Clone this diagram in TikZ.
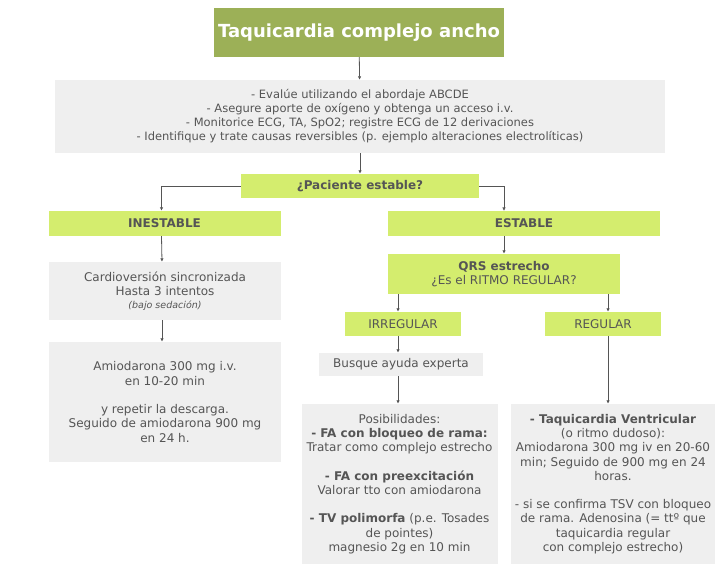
\documentclass[tikz,border=0pt]{standalone}
\usepackage{fontspec}
\setmainfont{DejaVu Sans}
\usetikzlibrary{arrows.meta}

\definecolor{titlegreen}{HTML}{9CB057}
\definecolor{boxlime}{HTML}{D4ED6E}
\definecolor{boxgray}{HTML}{EFEFEF}
\definecolor{inkgray}{HTML}{555555}

\begin{document}
\begin{tikzpicture}[x=1pt,y=-1pt,
    every node/.style={inner sep=0pt,align=center,text=inkgray,
      font=\fontsize{12}{14.3}\selectfont},
    grey/.style={fill=boxgray},
    lime/.style={fill=boxlime},
    arr/.style={draw=inkgray,line width=.8pt,-{Latex[length=3.5pt,width=3.5pt]}}]

  \useasboundingbox (0,0) rectangle (720,572);

  % top
  \node[fill=titlegreen,text=white,minimum width=290pt,minimum height=49pt,
        font=\bfseries\fontsize{18}{20}\selectfont] (tit) at (359,32.5)
        {Taquicardia complejo ancho};
  \node[grey,minimum width=610pt,minimum height=73pt,font=\fontsize{11.5}{14}\selectfont]
        (abc) at (360,116.5)
        {- Evalúe utilizando el abordaje ABCDE\\
         - Asegure aporte de oxígeno y obtenga un acceso i.v.\\
         - Monitorice ECG, TA, SpO2; registre ECG de 12 derivaciones\\
         - Identifique y trate causas reversibles (p. ejemplo alteraciones electrolíticas)};
  \node[lime,minimum width=238pt,minimum height=24pt,font=\bfseries\fontsize{12}{14}\selectfont]
        (pac) at (360,186) {¿Paciente estable?};

  % inestable
  \begin{scope}[every node/.append style={minimum width=232pt}]
    \node[lime,minimum height=25pt,font=\bfseries\fontsize{12}{14}\selectfont]
          (inest) at (164.5,223.5) {INESTABLE};
    \node[grey,minimum height=58pt] (cardio) at (165,291)
          {Cardioversión sincronizada\\Hasta 3 intentos\\[-2pt]
           {\itshape\fontsize{9.5}{12}\selectfont (bajo sedación)}};
    \node[grey,minimum height=120pt] (amio) at (165,402)
          {Amiodarona 300 mg i.v.\\en 10-20 min\\[14pt]
           y repetir la descarga.\\Seguido de amiodarona 900 mg\\en 24 h.};
  \end{scope}

  % estable
  \node[lime,minimum width=272pt,minimum height=25pt,font=\bfseries\fontsize{12}{14}\selectfont]
        (est) at (524,223.5) {ESTABLE};
  \node[lime,minimum width=232pt,minimum height=40pt] (qrs) at (504,274)
        {\textbf{QRS estrecho}\\¿Es el RITMO REGULAR?};
  \node[lime,minimum width=116pt,minimum height=24pt] (irr) at (403,324) {IRREGULAR};
  \node[lime,minimum width=116pt,minimum height=24pt] (reg) at (603,324) {REGULAR};
  \node[grey,minimum width=164pt,minimum height=23pt] (bus) at (401,364.5)
        {Busque ayuda experta};
  \node[grey,minimum width=196pt,minimum height=160pt] (pos) at (399.5,484)
        {Posibilidades:\\\textbf{- FA con bloqueo de rama:}\\Tratar como complejo estrecho\\[14pt]
         \textbf{- FA con preexcitación}\\Valorar tto con amiodarona\\[14pt]
         \textbf{- TV polimorfa} (p.e. Tosades\\de pointes)\\magnesio 2g en 10 min};
  \node[grey,minimum width=204pt,minimum height=160pt] (vt) at (613,484)
        {\textbf{- Taquicardia Ventricular}\\(o ritmo dudoso):\\Amiodarona 300 mg iv en 20-60\\
         min; Seguido de 900 mg en 24\\horas.\\[14pt]
         - si se confirma TSV con bloqueo\\de rama. Adenosina (= ttº que\\
         taquicardia regular\\con complejo estrecho)};

  \coordinate (estin) at (504,211);

  % connectors
  \draw[arr] (tit) -- (abc);
  \draw[arr] (abc) -- (pac);
  \draw[arr] (pac.west) -| ([xshift=-3pt]inest.north);
  \draw[arr] (pac.east) -| (estin);
  \draw[arr] ([xshift=-3pt]inest.south) -- ([xshift=-3pt]cardio.north);
  \draw[arr] ([xshift=-3pt]cardio.south) -- ([xshift=-3pt]amio.north);
  \draw[arr] (est.south -| qrs) -- (qrs);
  \draw[arr] ([xshift=-106pt]qrs.south) -- ([xshift=-5pt]irr.north);
  \draw[arr] ([xshift=104pt]qrs.south) -- ([xshift=5pt]reg.north);
  \draw[arr] ([xshift=-5pt]irr.south) -- ([xshift=-3pt]bus.north);
  \draw[arr] ([xshift=-3pt]bus.south) -- ([xshift=-1.5pt]pos.north);
  \draw[arr] ([xshift=5pt]reg.south) -- ([xshift=-5pt]vt.north);

\end{tikzpicture}
\end{document}
